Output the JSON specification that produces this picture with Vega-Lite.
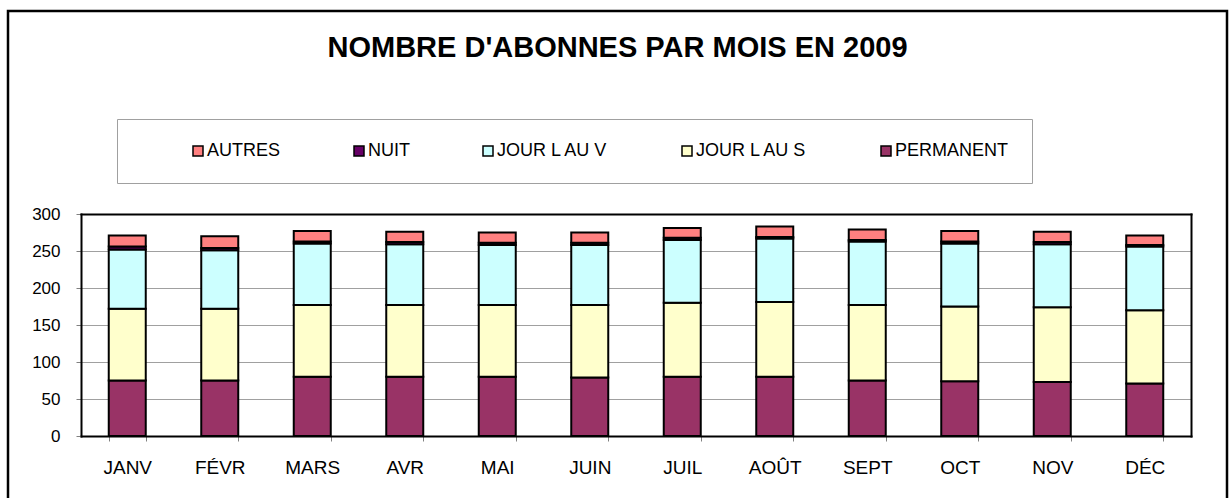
{
  "$schema": "https://vega.github.io/schema/vega-lite/v6.json",
  "width": 1219,
  "height": 490,
  "autosize": "none",
  "padding": {"left": 8, "top": 11, "right": 4, "bottom": 0},
  "background": "white",
  "title": {
    "text": "NOMBRE D'ABONNES PAR MOIS EN 2009",
    "frame": "group",
    "anchor": "middle",
    "offset": -75,
    "baseline": "alphabetic",
    "fontSize": 29,
    "font": "Liberation Sans",
    "fontWeight": "bold",
    "color": "black"
  },
  "data": {
    "values": [
      {"mois": "JANV", "serie": "PERMANENT", "valeur": 75},
      {"mois": "JANV", "serie": "JOUR L AU S", "valeur": 97},
      {"mois": "JANV", "serie": "JOUR L AU V", "valeur": 80},
      {"mois": "JANV", "serie": "NUIT", "valeur": 4},
      {"mois": "JANV", "serie": "AUTRES", "valeur": 15},
      {"mois": "FÉVR", "serie": "PERMANENT", "valeur": 75},
      {"mois": "FÉVR", "serie": "JOUR L AU S", "valeur": 97},
      {"mois": "FÉVR", "serie": "JOUR L AU V", "valeur": 79},
      {"mois": "FÉVR", "serie": "NUIT", "valeur": 3},
      {"mois": "FÉVR", "serie": "AUTRES", "valeur": 16},
      {"mois": "MARS", "serie": "PERMANENT", "valeur": 80},
      {"mois": "MARS", "serie": "JOUR L AU S", "valeur": 97},
      {"mois": "MARS", "serie": "JOUR L AU V", "valeur": 83},
      {"mois": "MARS", "serie": "NUIT", "valeur": 3},
      {"mois": "MARS", "serie": "AUTRES", "valeur": 14},
      {"mois": "AVR", "serie": "PERMANENT", "valeur": 80},
      {"mois": "AVR", "serie": "JOUR L AU S", "valeur": 97},
      {"mois": "AVR", "serie": "JOUR L AU V", "valeur": 82},
      {"mois": "AVR", "serie": "NUIT", "valeur": 3},
      {"mois": "AVR", "serie": "AUTRES", "valeur": 14},
      {"mois": "MAI", "serie": "PERMANENT", "valeur": 80},
      {"mois": "MAI", "serie": "JOUR L AU S", "valeur": 97},
      {"mois": "MAI", "serie": "JOUR L AU V", "valeur": 81},
      {"mois": "MAI", "serie": "NUIT", "valeur": 3},
      {"mois": "MAI", "serie": "AUTRES", "valeur": 14},
      {"mois": "JUIN", "serie": "PERMANENT", "valeur": 79},
      {"mois": "JUIN", "serie": "JOUR L AU S", "valeur": 98},
      {"mois": "JUIN", "serie": "JOUR L AU V", "valeur": 81},
      {"mois": "JUIN", "serie": "NUIT", "valeur": 3},
      {"mois": "JUIN", "serie": "AUTRES", "valeur": 14},
      {"mois": "JUIL", "serie": "PERMANENT", "valeur": 80},
      {"mois": "JUIL", "serie": "JOUR L AU S", "valeur": 100},
      {"mois": "JUIL", "serie": "JOUR L AU V", "valeur": 85},
      {"mois": "JUIL", "serie": "NUIT", "valeur": 3},
      {"mois": "JUIL", "serie": "AUTRES", "valeur": 13},
      {"mois": "AOÛT", "serie": "PERMANENT", "valeur": 80},
      {"mois": "AOÛT", "serie": "JOUR L AU S", "valeur": 101},
      {"mois": "AOÛT", "serie": "JOUR L AU V", "valeur": 86},
      {"mois": "AOÛT", "serie": "NUIT", "valeur": 2},
      {"mois": "AOÛT", "serie": "AUTRES", "valeur": 14},
      {"mois": "SEPT", "serie": "PERMANENT", "valeur": 75},
      {"mois": "SEPT", "serie": "JOUR L AU S", "valeur": 102},
      {"mois": "SEPT", "serie": "JOUR L AU V", "valeur": 86},
      {"mois": "SEPT", "serie": "NUIT", "valeur": 2},
      {"mois": "SEPT", "serie": "AUTRES", "valeur": 14},
      {"mois": "OCT", "serie": "PERMANENT", "valeur": 74},
      {"mois": "OCT", "serie": "JOUR L AU S", "valeur": 101},
      {"mois": "OCT", "serie": "JOUR L AU V", "valeur": 85},
      {"mois": "OCT", "serie": "NUIT", "valeur": 3},
      {"mois": "OCT", "serie": "AUTRES", "valeur": 14},
      {"mois": "NOV", "serie": "PERMANENT", "valeur": 73},
      {"mois": "NOV", "serie": "JOUR L AU S", "valeur": 101},
      {"mois": "NOV", "serie": "JOUR L AU V", "valeur": 85},
      {"mois": "NOV", "serie": "NUIT", "valeur": 3},
      {"mois": "NOV", "serie": "AUTRES", "valeur": 14},
      {"mois": "DÉC", "serie": "PERMANENT", "valeur": 71},
      {"mois": "DÉC", "serie": "JOUR L AU S", "valeur": 99},
      {"mois": "DÉC", "serie": "JOUR L AU V", "valeur": 86},
      {"mois": "DÉC", "serie": "NUIT", "valeur": 2},
      {"mois": "DÉC", "serie": "AUTRES", "valeur": 13}
    ]
  },
  "transform": [
    {"calculate": "indexof(['PERMANENT','JOUR L AU S','JOUR L AU V','NUIT','AUTRES'], datum.serie)", "as": "rang"}
  ],
  "layer": [
    {
      "mark": {"type": "bar", "stroke": "black", "strokeWidth": 2},
      "encoding": {
        "x": {
          "field": "mois",
          "type": "nominal",
          "sort": null,
          "scale": {"range": [73, 1183], "paddingInner": 0.6, "paddingOuter": 0.3},
          "axis": {
            "orient": "bottom",
            "offset": -65,
            "title": null,
            "labelAngle": 0,
            "labelFontSize": 19,
            "labelColor": "black",
            "labelPadding": 17,
            "tickBand": "extent",
            "tickSize": 5,
            "tickColor": "#808080",
            "domainColor": "black",
            "domainWidth": 2,
            "domainCap": "square",
            "grid": false
          }
        },
        "y": {
          "field": "valeur",
          "type": "quantitative",
          "stack": "zero",
          "scale": {"domain": [0, 300], "range": [425, 203], "nice": false},
          "axis": {
            "orient": "left",
            "offset": -73,
            "title": null,
            "values": [0, 50, 100, 150, 200, 250, 300],
            "labelFontSize": 17,
            "labelColor": "black",
            "labelPadding": 16,
            "tickSize": 5,
            "tickColor": "#808080",
            "domainColor": "black",
            "domainWidth": 2,
            "domainCap": "square",
            "grid": true,
            "gridColor": "#a0a0a0",
            "gridWidth": 1
          }
        },
        "color": {
          "field": "serie",
          "type": "nominal",
          "scale": {
            "domain": ["AUTRES", "NUIT", "JOUR L AU V", "JOUR L AU S", "PERMANENT"],
            "range": ["#FF8080", "#660066", "#CCFFFF", "#FFFFCC", "#993366"]
          },
          "legend": {
            "orient": "none",
            "legendX": 109,
            "legendY": 108,
            "direction": "horizontal",
            "title": " ",
            "titleOrient": "left",
            "titleFontSize": 1,
            "titlePadding": 49,
            "padding": 23,
            "strokeColor": "#a0a0a0",
            "fillColor": "white",
            "columnPadding": 69,
            "labelFontSize": 18,
            "labelColor": "black",
            "labelFont": "Liberation Sans",
            "labelOffset": 0,
            "labelLimit": 400,
            "symbolType": "square",
            "symbolSize": 100,
            "symbolStrokeColor": "black",
            "symbolStrokeWidth": 1.5,
            "symbolOpacity": 1
          }
        },
        "order": {"field": "rang", "type": "quantitative", "sort": "ascending"}
      }
    },
    {
      "mark": {"type": "point", "opacity": 0},
      "encoding": {
        "x": {
          "field": "mois",
          "type": "nominal",
          "sort": null,
          "axis": {
            "orient": "top",
            "offset": -203,
            "title": null,
            "labels": false,
            "ticks": false,
            "grid": false,
            "domainColor": "black",
            "domainWidth": 2,
            "domainCap": "square",
            "zindex": 1
          }
        },
        "y": {
          "field": "valeur",
          "type": "quantitative",
          "axis": {
            "orient": "right",
            "offset": -36,
            "title": null,
            "labels": false,
            "ticks": false,
            "grid": false,
            "domainColor": "black",
            "domainWidth": 2,
            "domainCap": "square",
            "zindex": 1
          }
        }
      }
    }
  ],
  "resolve": {"axis": {"x": "independent", "y": "independent"}},
  "config": {
    "font": "Liberation Sans",
    "view": {"stroke": "black", "strokeWidth": 2.5, "fill": "white"},
    "axis": {"labelFont": "Liberation Sans"}
  }
}
